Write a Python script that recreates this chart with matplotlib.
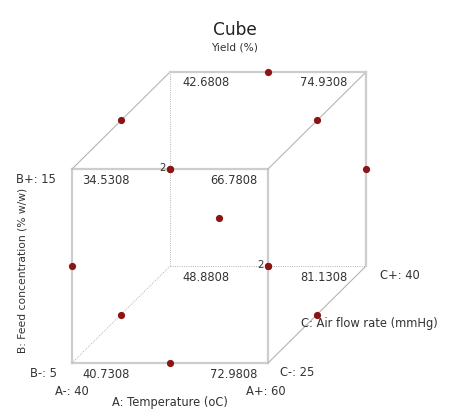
import numpy as np
import matplotlib.pyplot as plt

# =================================================================
# 1. DATOS DEL CUBO (diseño Box-Behnken, 3 factores)
# =================================================================
a_levels = [40, 60]   # A: Temperature (oC)
b_levels = [5, 15]    # B: Feed concentration (% w/w)
c_levels = [25, 40]   # C: Air flow rate (mmHg)

# esquinas en unidades codificadas (A, B, C) y Yield (%) predicho
corner_a = [-1, 1, -1, 1, -1, 1, -1, 1]
corner_b = [-1, -1, 1, 1, -1, -1, 1, 1]
corner_c = [-1, -1, -1, -1, 1, 1, 1, 1]
yield_pred = [40.7308, 72.9808, 34.5308, 66.7808, 48.8808, 81.1308, 42.6808, 74.9308]

# puntos del diseño: centros de las aristas + punto central
design_a = [-1, 1, -1, 1, -1, 1, -1, 1, 0, 0, 0, 0, 0]
design_b = [-1, -1, 1, 1, 0, 0, 0, 0, -1, 1, -1, 1, 0]
design_c = [0, 0, 0, 0, -1, -1, 1, 1, -1, -1, 1, 1, 0]

DEPTH = 0.5
edge_col = "#cdcdcd"
depth_col = "#b4b4b4"
dot_col = "#8c1414"
txt_col = "#333333"


def proj(a, b, c):
    # proyección oblicua del cubo
    return a + DEPTH * c, b + DEPTH * c


plt.rcParams['font.family'] = ['DejaVu Sans']
fig = plt.figure(figsize=(461 / 72, 416 / 72), dpi=72)
ax = fig.add_axes([0, 0, 1, 1])
ax.set_xlim(-2.235, 2.469)
ax.set_ylim(-2.046, 2.242)
ax.axis("off")

# =================================================================
# 2. ARISTAS
# =================================================================
corners = list(zip(corner_a, corner_b, corner_c))
hidden = (-1, -1, 1)
for i in range(len(corners)):
    for j in range(i + 1, len(corners)):
        p, q = corners[i], corners[j]
        diff = [k for k in range(3) if p[k] != q[k]]
        if len(diff) != 1:
            continue
        x0, y0 = proj(*p)
        x1, y1 = proj(*q)
        if p == hidden or q == hidden:
            ax.plot([x0, x1], [y0, y1], color="#a8a8a8", lw=0.9,
                    ls=(0, (1, 1.5)), zorder=1)
        elif diff[0] == 2:
            ax.plot([x0, x1], [y0, y1], color=depth_col, lw=1.1, zorder=1)
        else:
            ax.plot([x0, x1], [y0, y1], color=edge_col, lw=2.2, zorder=1)

# =================================================================
# 3. PUNTOS DEL DISEÑO
# =================================================================
px, py = proj(np.array(design_a, float), np.array(design_b, float),
              np.array(design_c, float))
ax.scatter(px, py, s=52, color=dot_col, zorder=3, linewidths=0)

pos, counts = np.unique(np.round(np.c_[px, py], 3), axis=0, return_counts=True)
for (x, y), n in zip(pos, counts):
    if n > 1:
        ax.annotate(str(n), (x, y), xytext=(-4, 1), textcoords="offset points",
                    ha="right", va="center", fontsize=10, color=txt_col)

# =================================================================
# 4. VALORES EN LAS ESQUINAS
# =================================================================
for a, b, c, v in zip(corner_a, corner_b, corner_c, yield_pred):
    x, y = proj(a, b, c)
    if a < 0:
        dx, ha = (10 if c < 0 else 12), "left"
    else:
        dx, ha = (-11 if c < 0 else -19), "right"
    ax.annotate(f"{v:.4f}", (x, y), xytext=(dx, -11), textcoords="offset points",
                ha=ha, va="center", fontsize=11.5, color=txt_col)

# =================================================================
# 5. ETIQUETAS DE LOS FACTORES
# =================================================================
fs = 11.5
x, y = proj(-1, 1, -1)
ax.annotate(f"B+: {b_levels[1]}", (x, y), xytext=(-16, -10), textcoords="offset points",
            ha="right", va="center", fontsize=fs, color=txt_col)
x, y = proj(-1, -1, -1)
ax.annotate(f"B-: {b_levels[0]}", (x, y), xytext=(-15, -10), textcoords="offset points",
            ha="right", va="center", fontsize=fs, color=txt_col)
ax.annotate(f"A-: {a_levels[0]}", (x, y), xytext=(0, -28), textcoords="offset points",
            ha="center", va="center", fontsize=fs, color=txt_col)
x, y = proj(1, -1, -1)
ax.annotate(f"A+: {a_levels[1]}", (x, y), xytext=(-2, -28), textcoords="offset points",
            ha="center", va="center", fontsize=fs, color=txt_col)
ax.annotate(f"C-: {c_levels[0]}", (x, y), xytext=(12, -9), textcoords="offset points",
            ha="left", va="center", fontsize=fs, color=txt_col)
x, y = proj(1, -1, 1)
ax.annotate(f"C+: {c_levels[1]}", (x, y), xytext=(14, -9), textcoords="offset points",
            ha="left", va="center", fontsize=fs, color=txt_col)

x, y = proj(0, -1, -1)
ax.annotate("A: Temperature (oC)", (x, y), xytext=(0, -39), textcoords="offset points",
            ha="center", va="center", fontsize=fs, color=txt_col)
x, y = proj(1, -1, 0)
ax.annotate("C: Air flow rate (mmHg)", (x, y), xytext=(-16, -9), textcoords="offset points",
            ha="left", va="center", fontsize=fs, color=txt_col)
x, y = proj(-1, 0, -1)
ax.annotate("B: Feed concentration (% w/w)", (x, y), xytext=(-50, -4),
            textcoords="offset points", ha="center", va="center", rotation=90,
            fontsize=10.8, color=txt_col)

fig.text(235 / 461, 1 - 30 / 416, "Cube", ha="center", va="center",
         fontsize=17, color="#222222")
fig.text(235 / 461, 1 - 48 / 416, "Yield (%)", ha="center", va="center",
         fontsize=10.5, color=txt_col)

fig.savefig("out.png", dpi=72)
